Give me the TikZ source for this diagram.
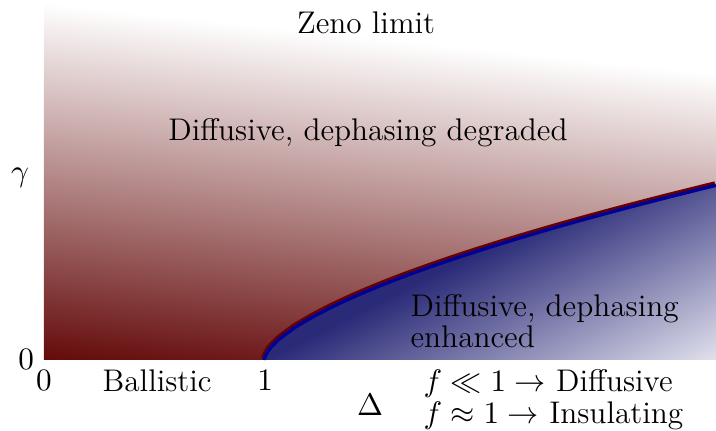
\documentclass[tikz,border=0pt]{standalone}
\usepackage{amsmath,amssymb}
\usepackage{tikz}
\usetikzlibrary{positioning, calc}
\definecolor{deepred}{RGB}{100,10,10}
\definecolor{deepblue}{RGB}{42,42,120}
\definecolor{paleblue}{RGB}{230,230,240}
\definecolor{edgeblue}{RGB}{0,0,150}
\definecolor{edgered}{RGB}{105,0,0}

\begin{document}
\begin{tikzpicture}[x=2.717cm,y=1.1115cm,
    declare function={gb(\d)=1.233*(\d-1)^0.63;},
    lbl/.style={font=\fontsize{11}{13}\selectfont},
    bound/.style={line width=1.2pt}]
    \useasboundingbox (-0.2,-0.789) rectangle (3.055,4);
    % Regione rossa
    \begin{scope}
        \clip (0,0) rectangle (3.055,4);
        \shade[transform canvas={rotate around={-6:(0,0)}},bottom color=deepred,top color=white]
            (0,0) ++(-1.5cm,0) rectangle ++(12cm,4.385cm);
    \end{scope}
    % Regione blu
    \begin{scope}
        \clip (1,0) -- plot[domain=1.001:3.055,samples=120] (\x,{gb(\x)}) -- (3.055,0) -- cycle;
        \fill[deepblue] (1,0) rectangle (3.055,2.5);
        \shade[transform canvas={rotate around={27:(1.005,0)}},top color=deepblue,bottom color=paleblue]
            (1.005,0) ++(-3cm,0) rectangle ++(12cm,-2.6cm);
    \end{scope}
    % Frontiera
    \draw[bound,edgered,yshift=0.8pt,xshift=-0.4pt] (1,0) -- plot[domain=1.001:3.055,samples=120] (\x,{gb(\x)});
    \draw[bound,edgeblue] (1,0) -- plot[domain=1.001:3.055,samples=120] (\x,{gb(\x)});
    % Etichette
    \node[lbl,anchor=base] (zeno) at (1.464,3.633) {Zeno limit};
    \node[lbl,anchor=base] (degr) at (1.473,2.444) {Diffusive, dephasing degraded};
    \node[lbl,anchor=north west,inner sep=0pt,align=left,font=\fontsize{11}{9.5}\selectfont] (enh) at (1.664,0.73) {Diffusive, dephasing\\enhanced};
    \node[lbl] (gam) at (-0.109,2.022) {$\gamma$};
    \node[lbl,left] (yzero) at (0,0) {$0$};
    \node[lbl,below] (xzero) at (0,0) {$0$};
    \node[lbl,below] (xone) at (1.005,0) {$1$};
    \node[lbl,below] (ball) at (0.514,0) {Ballistic};
    \node[lbl] (delt) at (1.482,-0.5) {$\Delta$};
    \node[lbl,anchor=base west,inner sep=0pt] (fdiff) at (1.723,-0.352) {$f \ll 1 \rightarrow$ Diffusive};
    \node[lbl,anchor=base west,inner sep=0pt] (fins) at (1.723,-0.711) {$f \approx 1 \rightarrow$ Insulating};
\end{tikzpicture}
\end{document}
